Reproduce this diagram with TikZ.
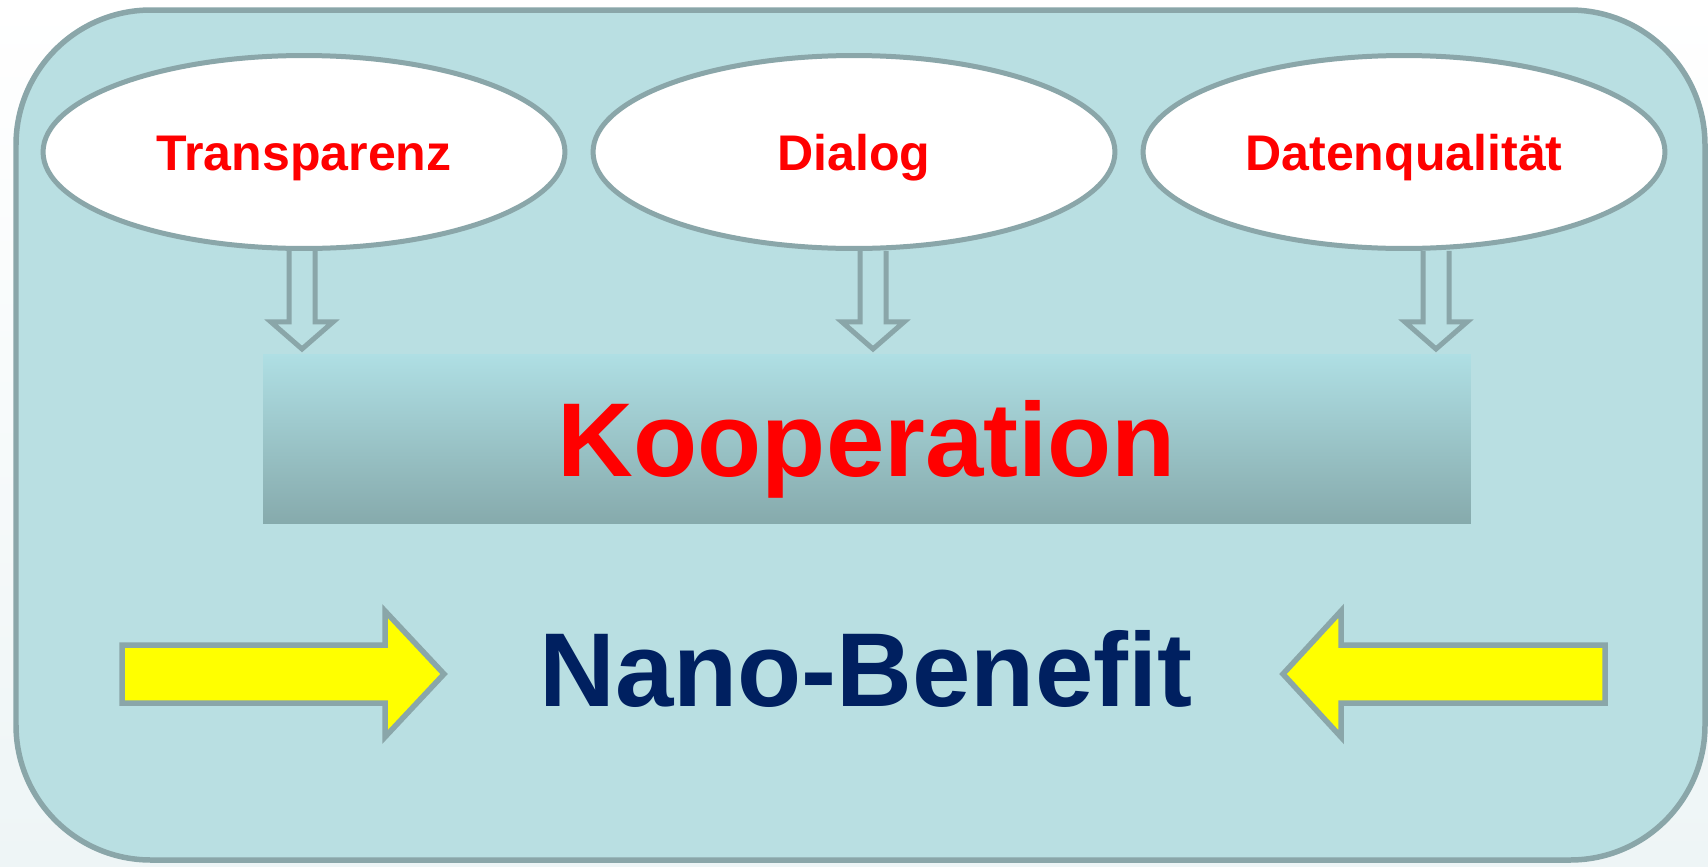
\documentclass[tikz,border=0pt]{standalone}
\usepackage{fontspec}
\setmainfont{Liberation Sans}
\usepackage{tikz}
\usetikzlibrary{shapes.geometric}

\definecolor{boxfill}{RGB}{185,223,226}
\definecolor{edgegrey}{RGB}{138,166,169}
\definecolor{koophi}{RGB}{175,223,228}
\definecolor{kooplo}{RGB}{134,170,172}
\definecolor{navytxt}{RGB}{0,32,96}
\definecolor{bgfoot}{RGB}{238,245,246}
\definecolor{arrowyellow}{RGB}{255,255,0}

\tikzset{
	topic/.style={ellipse, draw=edgegrey, line width=0.1cm, fill=white,
		minimum width=10.44cm, minimum height=3.86cm, inner sep=0pt,
		text=red, font=\bfseries\fontsize{28.5}{34}\selectfont,
		text height=0.72cm, text depth=0pt},
	bigword/.style={inner sep=0pt, font=\bfseries\fontsize{59.75}{70}\selectfont,
		text height=1.5cm, text depth=0pt},
	koopbox/.style={bigword, rectangle, minimum width=24.16cm, minimum height=3.4cm,
		top color=koophi, bottom color=kooplo, text=red},
	hollowarrow/.style={draw=edgegrey, line width=0.1cm, line join=miter},
	yellowarrow/.style={draw=edgegrey, fill=arrowyellow, line width=0.11cm, line join=miter}
}

\begin{document}
\begin{tikzpicture}[x=0.02cm, y=-0.02cm]
	\useasboundingbox (0,0) rectangle (1708,866);
	\fill[top color=white, bottom color=bgfoot] (0,0) rectangle (1708,866);

	\draw[draw=edgegrey, fill=boxfill, line width=0.11cm, rounded corners=2.7cm] (16,10) rectangle (1705,860);

	\node[koopbox] (koop) at (867,439) {Kooperation};

	\node[topic] (transp) at (304,152) {Transparenz};
	\node[topic] (dialog) at (854,152) {Dialog};
	\node[topic] (daten) at (1404,152) {Datenqualität};

	\draw[hollowarrow] ([xshift=-0.3cm]transp.south) -- ++(0,71) -- ++(-18,0) -- ++(31,27) -- ++(31,-27) -- ++(-18,0) -- ++(0,-71);
	\draw[hollowarrow] ([xshift=0.12cm]dialog.south) -- ++(0,71) -- ++(-18,0) -- ++(31,27) -- ++(31,-27) -- ++(-18,0) -- ++(0,-71);
	\draw[hollowarrow] ([xshift=0.38cm]daten.south) -- ++(0,71) -- ++(-18,0) -- ++(31,27) -- ++(31,-27) -- ++(-18,0) -- ++(0,-71);

	\node[bigword, text=navytxt] (benefit) at (866,669) {Nano-Benefit};

	\draw[yellowarrow] (122,645) -- (385,645) -- (385,611) -- (444,674) -- (385,737) -- (385,703) -- (122,703) -- cycle;
	\draw[yellowarrow] (1605,645) -- (1341,645) -- (1341,611) -- (1283,674) -- (1341,737) -- (1341,703) -- (1605,703) -- cycle;

\end{tikzpicture}
\end{document}
